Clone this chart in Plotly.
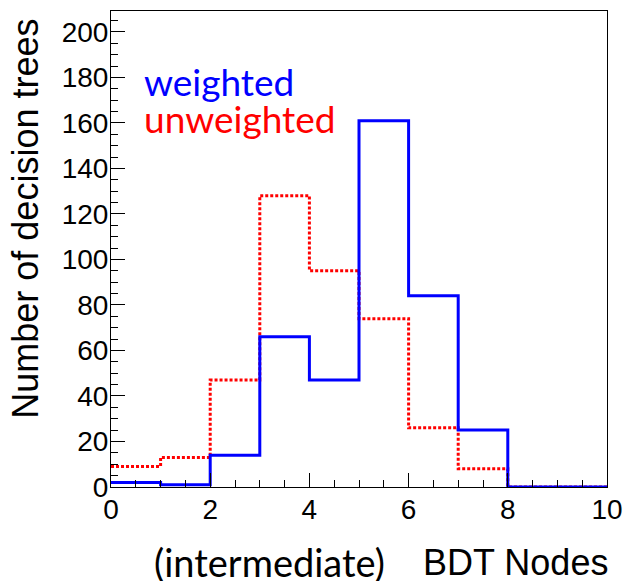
import plotly.graph_objects as go

bin_edges = [0, 1, 2, 3, 4, 5, 6, 7, 8, 9, 10]
weighted = [2, 1, 14, 66, 47, 161, 84, 25, 0, 0]
unweighted = [9, 13, 47, 128, 95, 74, 26, 8, 0, 0]

x_ticks = [0, 2, 4, 6, 8, 10]
y_ticks = [0, 20, 40, 60, 80, 100, 120, 140, 160, 180, 200]

fig = go.Figure()
fig.add_trace(go.Scatter(
    x=bin_edges, y=unweighted + [unweighted[-1]], mode="lines",
    line=dict(shape="hv", color="#ff0000", width=3, dash="3px,2px"),
    showlegend=False, hoverinfo="skip"))
fig.add_trace(go.Scatter(
    x=bin_edges, y=weighted + [weighted[-1]], mode="lines",
    line=dict(shape="hv", color="#0000ff", width=3),
    showlegend=False, hoverinfo="skip"))

axis_font = dict(family="Liberation Sans, Arial, sans-serif", size=28, color="black")
fig.update_xaxes(
    range=[0, 10], tickvals=x_ticks, ticktext=[str(v) for v in x_ticks],
    ticks="inside", ticklen=14, tickwidth=1, tickcolor="black",
    minor=dict(dtick=0.5, ticks="inside", ticklen=7, tickwidth=1, tickcolor="black", showgrid=False),
    showline=True, linecolor="black", linewidth=1, mirror=True, automargin=False,
    showgrid=False, zeroline=False, tickfont=axis_font, ticklabelstandoff=-3)
fig.update_yaxes(
    range=[0, 209.2], tickvals=y_ticks, ticktext=[str(v) for v in y_ticks],
    ticks="inside", ticklen=14, tickwidth=1, tickcolor="black",
    minor=dict(dtick=5, ticks="inside", ticklen=7, tickwidth=1, tickcolor="black", showgrid=False),
    showline=True, linecolor="black", linewidth=1, mirror=True, automargin=False,
    showgrid=False, zeroline=False, tickfont=axis_font, ticklabelstandoff=-4)

lato = "Lato, Carlito, sans-serif"
helv = "Liberation Sans, Arial, sans-serif"
annotations = [
    dict(text="weighted", x=(142 - 111) / 496, y=0.851, xref="paper", yref="paper",
         xanchor="left", yanchor="middle", showarrow=False,
         font=dict(family=lato, size=37, color="#0000ff")),
    dict(text="unweighted", x=(142 - 111) / 496, y=0.775, xref="paper", yref="paper",
         xanchor="left", yanchor="middle", showarrow=False,
         font=dict(family=lato, size=37, color="#ff0000")),
    dict(text="(intermediate)", x=0.32, y=-0.158, xref="paper", yref="paper",
         xanchor="center", yanchor="middle", showarrow=False,
         font=dict(family=lato, size=38, color="black")),
    dict(text="BDT Nodes", x=0.8155, y=-0.158, xref="paper", yref="paper",
         xanchor="center", yanchor="middle", showarrow=False,
         font=dict(family=helv, size=36, color="black")),
    dict(text="Number of decision trees", x=-0.173, y=0.564, xref="paper", yref="paper",
         xanchor="center", yanchor="middle", showarrow=False, textangle=-90,
         font=dict(family=helv, size=36, color="black")),
]

fig.update_layout(
    width=629, height=581,
    margin=dict(l=111, r=22, t=11, b=94, autoexpand=False),
    paper_bgcolor="white", plot_bgcolor="white",
    annotations=annotations,
)

fig.write_html("out.html")
